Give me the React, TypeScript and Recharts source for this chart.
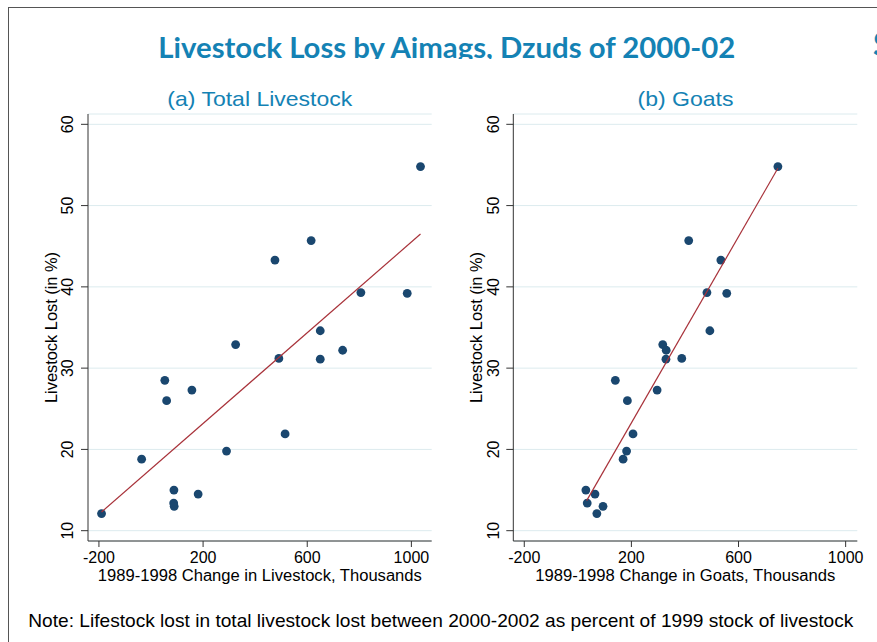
import React from 'react';
import { ScatterChart, Scatter, XAxis, YAxis, CartesianGrid, Label } from 'recharts';

// ---- Data ----
const lossPct = [54.8, 45.7, 43.3, 39.3, 39.2, 34.6, 32.9, 32.2, 31.2, 31.1, 28.5, 27.3, 26.0, 21.9, 19.8, 18.8, 15.0, 14.5, 13.4, 13.0, 12.1];
const changeLivestock = [1035, 615, 476, 806, 984, 650, 325, 736, 491, 650, 53, 157, 60, 515, 290, -36, 88, 181, 87, 89, -190];
const changeGoats = [747, 414, 534, 482, 556, 493, 317, 330, 388, 329, 140, 296, 185, 206, 182, 169, 30, 64, 35, 94, 71];

const fitLivestockX = [-190, 1035];
const fitLivestockY = [12.3, 46.5];
const fitGoatsX = [33, 747];
const fitGoatsY = [13.7, 54.6];

const xTicks = [-200, 200, 600, 1000];
const yTicks = [10, 20, 30, 40, 50, 60];

const titleText = 'Livestock Loss by Aimags, Dzuds of 2000-02';
const subtitleA = '(a) Total Livestock';
const subtitleB = '(b) Goats';
const xTitleA = '1989-1998 Change in Livestock, Thousands';
const xTitleB = '1989-1998 Change in Goats, Thousands';
const yTitle = 'Livestock Lost (in %)';
const noteText = 'Note: Lifestock lost in total livestock lost between 2000-2002 as percent of 1999 stock of livestock';

const ptsA = changeLivestock.map((x, i) => ({ x, y: lossPct[i] }));
const ptsB = changeGoats.map((x, i) => ({ x, y: lossPct[i] }));
const fitA = fitLivestockX.map((x, i) => ({ x, y: fitLivestockY[i] }));
const fitB = fitGoatsX.map((x, i) => ({ x, y: fitGoatsY[i] }));

const FONT = '"Liberation Sans", Arial, Helvetica, sans-serif';
const BLUE = '#1482b4';
const DOT = '#1a476f';
const LINE = '#a8323a';
const AXIS = '#333333';

const Dot = (props: any) => {
  const { cx, cy } = props;
  if (cx == null || cy == null) return <g />;
  return <circle cx={cx} cy={cy} r={4.4} fill={DOT} />;
};
const NoDot = () => <g />;

const YTick = (props: any) => {
  const { x, y, payload } = props;
  const bx = x - 5.5;
  return (
    <text x={bx} y={y} transform={`rotate(-90, ${bx}, ${y})`} textAnchor="middle" fontFamily={FONT} fontSize={16} fill="#000">
      {payload.value}
    </text>
  );
};

const XTick = (props: any) => {
  const { x, y, payload } = props;
  return (
    <text x={x} y={y + 16} textAnchor="middle" fontFamily={FONT} fontSize={16} fill="#000">
      {payload.value}
    </text>
  );
};

const makeXTitle = (text: string, len: number) => (props: any) => {
  const vb = props.viewBox || {};
  const cx = vb.x + vb.width / 2;
  return (
    <text x={cx} y={vb.y + 40} textAnchor="middle" fontFamily={FONT} fontSize={16} fill="#000" textLength={len} lengthAdjust="spacingAndGlyphs">
      {text}
    </text>
  );
};

const makeYTitle = (text: string) => (props: any) => {
  const vb = props.viewBox || {};
  const bx = vb.x + vb.width - 31;
  const cy = vb.y + vb.height / 2;
  return (
    <text x={bx} y={cy} transform={`rotate(-90, ${bx}, ${cy})`} textAnchor="middle" fontFamily={FONT} fontSize={16} fill="#000" textLength={151} lengthAdjust="spacingAndGlyphs">
      {text}
    </text>
  );
};

interface PanelProps {
  pts: { x: number; y: number }[];
  fit: { x: number; y: number }[];
  width: number;
  yAxisWidth: number;
  marginRight: number;
  xDomain: [number, number];
  xTitle: string;
  xTitleLen: number;
}

const Panel = ({ pts, fit, width, yAxisWidth, marginRight, xDomain, xTitle, xTitleLen }: PanelProps) => (
  <ScatterChart width={width} height={642} margin={{ top: 114, right: marginRight, bottom: 41, left: 0 }}>
    <CartesianGrid horizontal={true} vertical={false} stroke="#dcebee" strokeWidth={1} />
    <XAxis
      type="number"
      dataKey="x"
      domain={xDomain}
      ticks={xTicks}
      allowDataOverflow
      height={60}
      tickSize={6}
      tickMargin={0}
      axisLine={{ stroke: AXIS, strokeWidth: 1 }}
      tickLine={{ stroke: AXIS, strokeWidth: 1 }}
      tick={<XTick />}
      interval={0}
    >
      <Label content={makeXTitle(xTitle, xTitleLen)} />
    </XAxis>
    <YAxis
      type="number"
      dataKey="y"
      domain={[8.73, 61.27]}
      ticks={yTicks}
      allowDataOverflow
      width={yAxisWidth}
      tickSize={7}
      tickMargin={2}
      axisLine={{ stroke: AXIS, strokeWidth: 1 }}
      tickLine={{ stroke: AXIS, strokeWidth: 1 }}
      tick={<YTick />}
      interval={0}
    >
      <Label content={makeYTitle(yTitle)} />
    </YAxis>
    <Scatter data={pts} shape={<Dot />} isAnimationActive={false} />
    <Scatter data={fit} shape={<NoDot />} line={{ stroke: LINE, strokeWidth: 1.2 }} lineType="joint" isAnimationActive={false} />
  </ScatterChart>
);

export default function App() {
  return (
    <div style={{ position: 'absolute', left: 0, top: 0, width: 877, height: 642, overflow: 'hidden', background: '#fff' }}>
      <div style={{ position: 'absolute', left: 8, top: 7, width: 869, height: 640, borderTop: '1px solid #555', borderLeft: '1px solid #555', boxSizing: 'border-box' }} />
      <svg width={877} height={59} style={{ position: 'absolute', left: 0, top: 0 }}>
        <text x={158.3} y={58.3} fontFamily="Lato, 'Open Sans', sans-serif" fontWeight={700} fontSize={28} fill={BLUE} textLength={577} lengthAdjust="spacingAndGlyphs">
          {titleText}
        </text>
        <text x={873} y={56} fontFamily="Lato, 'Open Sans', sans-serif" fontWeight={700} fontSize={32} fill={BLUE}>S</text>
      </svg>
      <svg width={877} height={642} style={{ position: 'absolute', left: 0, top: 0 }}>
        <text x={167.3} y={105.5} fontFamily={FONT} fontSize={21} fill={BLUE} textLength={185} lengthAdjust="spacingAndGlyphs">{subtitleA}</text>
        <text x={637.5} y={105.5} fontFamily={FONT} fontSize={21} fill={BLUE} textLength={96} lengthAdjust="spacingAndGlyphs">{subtitleB}</text>
        <text x={28.3} y={626.7} fontFamily={FONT} fontSize={19} fill="#000" textLength={825} lengthAdjust="spacingAndGlyphs">{noteText}</text>
      </svg>
      <div style={{ position: 'absolute', left: 0, top: 0 }}>
        <Panel pts={ptsA} fit={fitA} width={440} yAxisWidth={88} marginRight={8.3} xDomain={[-242, 1078]} xTitle={xTitleA} xTitleLen={324} />
      </div>
      <div style={{ position: 'absolute', left: 425, top: 0 }}>
        <Panel pts={ptsB} fit={fitB} width={452} yAxisWidth={88.3} marginRight={19.7} xDomain={[-241, 1043.5]} xTitle={xTitleB} xTitleLen={300} />
      </div>
    </div>
  );
}
